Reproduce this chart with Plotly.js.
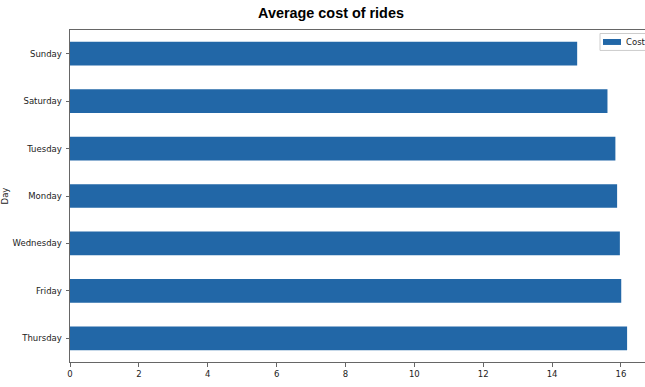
<!DOCTYPE html>
<html>
<head>
<meta charset="utf-8">
<script src="https://cdn.plot.ly/plotly-3.0.1.min.js"></script>
<style>
html,body{margin:0;padding:0;overflow:hidden;background:#fff;width:645px;height:387px;}
#chart{width:645px;height:387px;}
</style>
</head>
<body>
<div id="chart"></div>
<script>
const days = ["Thursday", "Friday", "Wednesday", "Monday", "Tuesday", "Saturday", "Sunday"];
const cost = [16.18, 16.01, 15.97, 15.89, 15.84, 15.61, 14.73];
const xTicks = [0, 2, 4, 6, 8, 10, 12, 14, 16];
const seriesName = "Cost";
const chartTitle = "Average cost of rides";
const yTitle = "Day";

const barColor = "#2267a7";
const axisColor = "#666666";
const W = 645, H = 387;
const M = {l: 70, r: 0, t: 29.5, b: 24.5};
const pw = W - M.l - M.r, ph = H - M.t - M.b;
const px = v => (v - M.l) / pw;          // pixel x -> paper x
const py = v => 1 - (v - M.t) / ph;      // pixel y -> paper y

const trace = {
  type: "bar",
  orientation: "h",
  y: days,
  x: cost,
  name: seriesName,
  width: 0.5,
  marker: {color: barColor},
  showlegend: false
};

const layout = {
  width: W,
  height: H,
  margin: M,
  paper_bgcolor: "#ffffff",
  plot_bgcolor: "#ffffff",
  font: {family: "DejaVu Sans, sans-serif", size: 8.5, color: "#222222"},
  title: {
    text: "<b>" + chartTitle + "</b>",
    xref: "container", x: 331 / W, xanchor: "center",
    yref: "container", y: 1 - 12.5 / H, yanchor: "middle",
    font: {family: "Liberation Sans, Arial, sans-serif", size: 14.4, color: "#000000"}
  },
  xaxis: {
    range: [0, 16.7],
    tickvals: xTicks,
    ticktext: xTicks.map(String),
    ticks: "outside", ticklen: 3.5, tickwidth: 1, tickcolor: axisColor,
    showline: true, linecolor: axisColor, linewidth: 1, mirror: true,
    showgrid: false, zeroline: false,
    tickfont: {size: 8.5, color: "#222222"}
  },
  yaxis: {
    type: "category",
    categoryorder: "array",
    categoryarray: days,
    range: [-0.5, 6.5],
    ticks: "outside", ticklen: 3.5, tickwidth: 1, tickcolor: axisColor,
    showline: true, linecolor: axisColor, linewidth: 1, mirror: false,
    showgrid: false, zeroline: false,
    ticklabelstandoff: 2,
    tickfont: {size: 8.5, color: "#222222"},
    title: {text: yTitle, font: {size: 8.5, color: "#222222"}, standoff: 8}
  },
  shapes: [
    {type: "rect", xref: "paper", yref: "paper", layer: "above",
     x0: px(600), x1: px(660), y0: py(33), y1: py(50),
     fillcolor: "rgba(255,255,255,0.85)", line: {color: "#cccccc", width: 1}},
    {type: "rect", xref: "paper", yref: "paper", layer: "above",
     x0: px(603), x1: px(621), y0: py(38.5), y1: py(44.5),
     fillcolor: barColor, line: {width: 0}}
  ],
  annotations: [
    {xref: "paper", yref: "paper", x: px(624), y: py(41.5),
     xanchor: "left", yanchor: "middle", showarrow: false,
     text: seriesName, font: {size: 8.5, color: "#222222"}}
  ]
};

Plotly.newPlot("chart", [trace], layout, {displayModeBar: false, staticPlot: true});
</script>
</body>
</html>
